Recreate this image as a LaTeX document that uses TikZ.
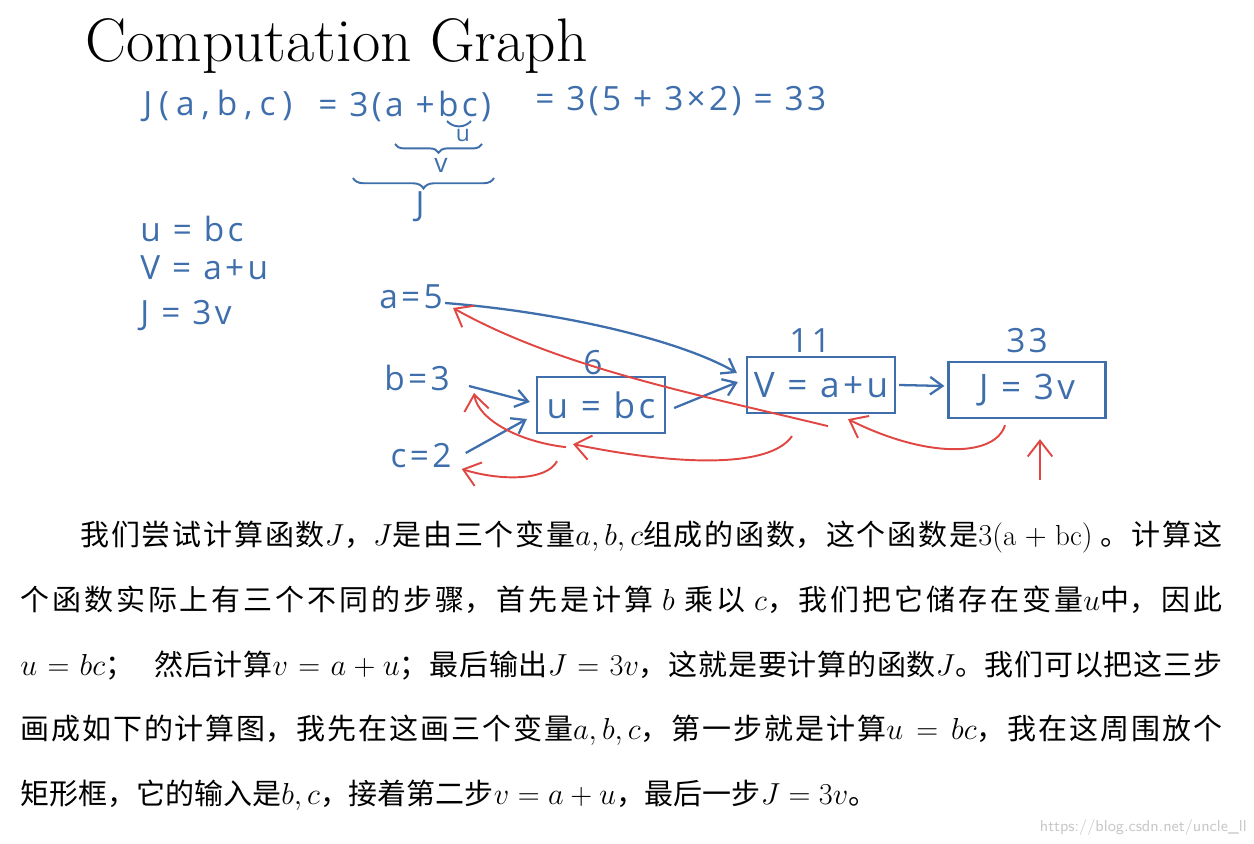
\documentclass[tikz,border=0pt]{standalone}
\usepackage{fontspec}
\usetikzlibrary{arrows.meta,decorations.pathreplacing}
\newfontfamily\handfont{Open Sans}[LetterSpace=10]
\newfontfamily\cjkfont{Noto Sans CJK SC}
\XeTeXlinebreaklocale "zh"
\XeTeXlinebreakskip=0pt plus 2pt
\definecolor{penblue}{RGB}{62,110,172}
\definecolor{penred}{RGB}{224,70,66}

\begin{document}
\begin{tikzpicture}[x=0.02cm, y=-0.02cm,
  hand/.style={text=penblue, font=\handfont\fontsize{19}{22}\selectfont, inner sep=0pt},
  opbox/.style={draw=penblue, line width=1.3pt, text=penblue, font=\handfont\fontsize{20}{24}\selectfont, minimum height=1.12cm, inner sep=0pt},
  fwd/.style={draw=penblue, line width=1.3pt, -{Straight Barb[length=7pt,width=10pt]}},
  bwd/.style={draw=penred, line width=1.1pt, -{Straight Barb[length=9pt,width=14pt]}},
  pen/.style={draw=penblue, line width=1.1pt}]
  \useasboundingbox (0,0) rectangle (1254,844);

  \node [anchor=base west, inner sep=0pt, font=\fontsize{35}{38}\selectfont] (title) at (85,62) {Computation Graph};

  % the function and its parts
  \node [hand, anchor=west] (fJ) at (143,106) {\addfontfeature{LetterSpace=21}J(a,b,c)};
  \node [hand, anchor=west] (fdef) at (318,106) {= 3(a +bc)};
  \node [hand, anchor=west] (fnum) at (535,101) {= 3(5 + 3×2) = 33};
  \draw [pen] (447,121) to[bend right=50] (471,121);
  \node [hand, font=\handfont\fontsize{13}{14}\selectfont] (bu) at (463,136) {u};
  \draw [pen, decorate, decoration={brace, mirror, amplitude=5pt}] (395,144) -- (482,144);
  \node [hand, font=\handfont\fontsize{15}{16}\selectfont] (bv) at (441,165) {v};
  \draw [pen, decorate, decoration={brace, mirror, amplitude=6pt}] (353,178) -- (494,178);
  \node [hand] (bJ) at (420,207) {J};

  \node [hand, anchor=west] (equ) at (140,229) {u = bc};
  \node [hand, anchor=west] (eqv) at (140,268) {V = a+u};
  \node [hand, anchor=west] (eqJ) at (140,316) {J = 3v};

  % graph
  \node [hand] (a) at (411,297) {a=5};
  \node [hand] (b) at (417,378) {b=3};
  \node [hand] (c) at (421,456) {c=2};

  \node [opbox, minimum width=2.56cm] (ubox) at (601,405) {u = bc};
  \node [opbox, minimum width=2.96cm] (vbox) at (821,385) {V = a+u};
  \node [opbox, minimum width=3.14cm] (jbox) at (1027,390) {J = 3v};
  \node [hand] (uval) at (593,363) {6};
  \node [hand] (vval) at (810,341) {11};
  \node [hand] (jval) at (1027,341) {33};

  \draw [fwd] ([shift={(2,6)}]a.east) .. controls (560,312) and (680,340) .. ([shift={(-9,-12)}]vbox.west);
  \draw [fwd] ([shift={(19,8)}]b.east) -- ([shift={(-6,-3)}]ubox.west);
  \draw [fwd] ([shift={(14,-3)}]c.east) -- ([shift={(-9,14)}]ubox.west);
  \draw [fwd] ([shift={(8,3)}]ubox.east) -- ([shift={(-8,-3)}]vbox.west);
  \draw [fwd] ([shift={(3,0)}]vbox.east) -- ([shift={(-3,-4)}]jbox.west);

  % backward pass
  \coordinate (dJ) at (1040,480);
  \draw [bwd] (dJ) -- ([shift={(13,20)}]jbox.south);
  \draw [bwd] ([shift={(-22,6)}]jbox.south) .. controls (995,458) and (925,458) .. ([shift={(27,5)}]vbox.south);
  \draw [bwd] ([shift={(7,12)}]vbox.south) .. controls (700,395) and (560,368) .. ([shift={(10,11)}]a.east);
  \draw [bwd] ([shift={(-29,22)}]vbox.south) .. controls (770,468) and (680,466) .. ([shift={(-28,10)}]ubox.south);
  \draw [bwd] ([shift={(-35,13)}]ubox.south) .. controls (520,442) and (478,420) .. ([shift={(24,15)}]b.east);
  \draw [bwd] ([shift={(-44,27)}]ubox.south) .. controls (547,481) and (500,481) .. ([shift={(10,13)}]c.east);

  \node [anchor=north west, inner sep=0pt, text width=24.04cm, align=justify,
         font=\cjkfont\fontsize{16.5}{36.8}\selectfont] (para) at (20,521) {%
    \hspace*{1.2cm}我们尝试计算函数$J$，$J$是由三个变量$a,b,c$组成的函数，这个函数是$3(\mathrm{a}+\mathrm{bc})$ 。计算这\linebreak
    个函数实际上有三个不同的步骤，首先是计算 $b$ 乘以 $c$，我们把它储存在变量$u$中，因此\linebreak
    $u=bc$；\hspace{0.7em}然后计算$v=a+u$；最后输出$J=3v$，这就是要计算的函数$J$。我们可以把这三步\linebreak
    画成如下的计算图，我先在这画三个变量$a,b,c$，第一步就是计算$u=bc$，我在这周围放个\linebreak
    矩形框，它的输入是$b,c$，接着第二步$v=a+u$，最后一步$J=3v$。};

  \node [anchor=east, inner sep=0pt, text=black!22, font=\sffamily\fontsize{9}{10}\selectfont] (mark) at (1247,828) {https://blog.csdn.net/uncle\_ll};
\end{tikzpicture}
\end{document}
